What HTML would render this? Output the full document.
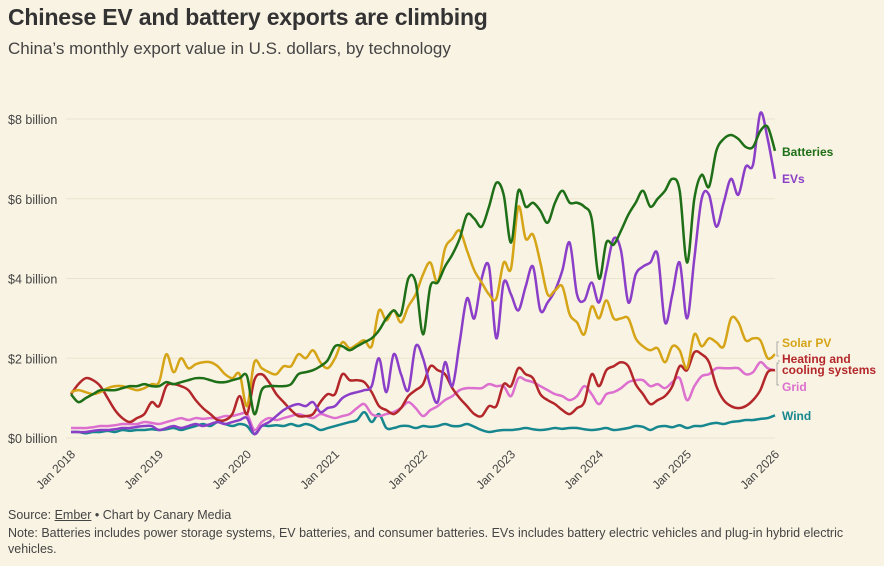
<!DOCTYPE html>
<html><head><meta charset="utf-8"><style>
body{margin:0;background:#f9f3e3;font-family:"Liberation Sans",sans-serif;}
#wrap{position:relative;width:884px;height:566px;overflow:hidden;background:#f9f3e3;}
h1{position:absolute;left:8px;top:4px;margin:0;font-size:23px;font-weight:bold;color:#333;letter-spacing:-0.2px}
.sub{position:absolute;left:8px;top:39px;font-size:17px;color:#444}
.foot{position:absolute;left:8px;font-size:12.5px;color:#444}
</style></head><body>
<div id="wrap">
<h1>Chinese EV and battery exports are climbing</h1>
<div class="sub">China’s monthly export value in U.S. dollars, by technology</div>
<svg id="chart" width="884" height="566" style="position:absolute;left:0;top:0"></svg>
<div class="foot" style="top:508px">Source: <u>Ember</u> • Chart by Canary Media</div>
<div class="foot" style="top:525px;width:860px;line-height:16px">Note: Batteries includes power storage systems, EV batteries, and consumer batteries. EVs includes battery electric vehicles and plug-in hybrid electric vehicles.</div>
</div>
<script>
const batteries=[1.1,0.9,1.0,1.1,1.2,1.2,1.2,1.25,1.3,1.3,1.35,1.3,
1.3,1.4,1.35,1.4,1.45,1.5,1.5,1.45,1.4,1.4,1.45,1.5,
1.55,0.6,1.2,1.3,1.3,1.3,1.35,1.6,1.65,1.7,1.8,1.95,
2.3,2.3,2.2,2.3,2.4,2.5,2.7,3.0,3.2,3.1,4.0,3.9,
2.6,3.8,3.9,4.3,4.6,5.0,5.6,5.5,5.3,5.8,6.4,6.1,
4.9,6.2,5.8,5.9,5.7,5.4,5.9,6.2,5.9,5.9,5.8,5.5,
4.0,4.9,4.85,5.2,5.6,5.9,6.2,5.8,6.0,6.2,6.5,6.2,
4.4,6.0,6.6,6.3,7.2,7.5,7.6,7.5,7.3,7.3,7.7,7.8,7.2];
const evs=[0.15,0.15,0.15,0.18,0.2,0.2,0.22,0.25,0.25,0.28,0.3,0.3,
0.2,0.25,0.3,0.25,0.3,0.35,0.3,0.35,0.4,0.35,0.4,0.45,
0.5,0.1,0.3,0.4,0.55,0.7,0.8,0.85,0.8,0.9,0.65,0.75,
0.8,1.0,1.1,1.15,1.2,1.3,2.0,1.15,2.1,1.6,1.2,2.3,
2.0,1.3,0.9,1.9,1.3,2.4,3.5,3.0,4.0,4.3,2.5,3.9,
3.6,3.2,3.8,4.3,3.2,3.4,3.7,4.2,4.9,3.6,3.45,3.9,
3.4,4.2,5.0,4.7,3.4,4.1,4.3,4.4,4.6,2.9,3.6,4.4,
3.0,4.5,6.0,6.1,5.3,5.9,6.5,6.1,6.8,6.85,8.15,7.5,6.5];
const solar=[1.15,1.2,1.15,1.1,1.15,1.25,1.3,1.3,1.25,1.2,1.25,1.35,
1.4,2.1,1.65,2.0,1.75,1.85,1.9,1.9,1.8,1.6,1.5,1.6,
0.8,1.9,1.75,1.65,1.6,1.8,1.8,2.1,2.0,2.2,1.9,1.75,
2.0,2.4,2.25,2.35,2.45,2.3,3.2,2.95,3.2,2.9,3.3,3.6,
4.1,4.4,3.9,4.75,5.0,5.2,4.7,4.2,3.9,3.6,3.5,4.4,
4.25,5.8,5.0,5.1,4.4,3.6,3.7,3.8,3.1,2.9,2.6,3.3,
3.0,3.45,3.0,3.0,3.0,2.5,2.3,2.2,2.25,1.9,2.3,2.2,
1.75,2.6,2.3,2.5,2.4,2.3,3.0,2.9,2.45,2.5,2.45,2.0,2.1];
const heating=[1.1,1.35,1.5,1.45,1.3,1.0,0.7,0.5,0.4,0.5,0.6,0.9,
0.8,1.3,1.35,1.3,1.2,0.95,0.75,0.6,0.45,0.45,0.6,1.05,
0.6,1.45,1.6,1.4,1.1,0.9,0.7,0.55,0.55,0.6,0.9,1.1,
1.1,1.6,1.45,1.45,1.4,1.15,0.8,0.7,0.6,0.75,1.05,1.2,
1.35,1.8,1.7,1.6,1.25,1.0,0.8,0.6,0.55,0.8,0.8,1.35,
1.3,1.75,1.6,1.5,1.1,0.95,0.85,0.7,0.6,0.75,0.9,1.6,
1.3,1.7,1.8,1.9,1.8,1.35,1.1,0.85,0.95,1.05,1.3,1.8,
1.7,2.15,2.1,1.9,1.3,0.95,0.8,0.75,0.8,0.95,1.2,1.65,1.7];
const grid=[0.25,0.25,0.25,0.27,0.3,0.3,0.32,0.35,0.35,0.35,0.4,0.38,
0.35,0.4,0.45,0.5,0.45,0.5,0.48,0.5,0.5,0.55,0.55,0.6,
0.6,0.2,0.4,0.5,0.45,0.5,0.55,0.6,0.55,0.5,0.6,0.55,
0.5,0.55,0.6,0.75,0.85,0.6,0.55,0.6,0.65,0.75,0.9,0.75,
0.55,0.7,0.8,0.95,1.05,1.2,1.25,1.25,1.25,1.35,1.3,1.3,
1.05,1.5,1.45,1.4,1.3,1.2,1.1,1.05,0.95,1.05,1.3,1.1,
0.85,1.1,1.15,1.25,1.4,1.45,1.45,1.3,1.35,1.25,1.4,1.5,
0.95,1.3,1.55,1.6,1.75,1.75,1.75,1.75,1.6,1.65,1.9,1.75,1.7];
const wind=[0.15,0.15,0.12,0.15,0.15,0.18,0.15,0.2,0.18,0.2,0.2,0.22,
0.2,0.22,0.25,0.2,0.25,0.3,0.35,0.3,0.4,0.35,0.3,0.35,
0.3,0.1,0.3,0.3,0.32,0.3,0.35,0.3,0.35,0.3,0.2,0.25,
0.3,0.35,0.4,0.45,0.65,0.4,0.6,0.25,0.25,0.3,0.3,0.25,
0.3,0.28,0.3,0.35,0.3,0.3,0.35,0.28,0.2,0.15,0.18,0.2,
0.2,0.22,0.25,0.22,0.2,0.22,0.25,0.23,0.25,0.25,0.22,0.2,
0.22,0.25,0.2,0.22,0.25,0.3,0.28,0.2,0.28,0.3,0.27,0.32,
0.25,0.3,0.3,0.35,0.38,0.35,0.4,0.42,0.45,0.45,0.48,0.5,0.57];
const yTicks=[0,2,4,6,8];
const yTickLabels=["$0 billion","$2 billion","$4 billion","$6 billion","$8 billion"];
const xTickMonths=[0,12,24,36,48,60,72,84,96];
const xTickLabels=["Jan 2018","Jan 2019","Jan 2020","Jan 2021","Jan 2022","Jan 2023","Jan 2024","Jan 2025","Jan 2026"];

const NS="http://www.w3.org/2000/svg";
const svg=document.getElementById('chart');
const X0=71,X1=775,Y0=438,YTOP=119;
function xs(m){return X0+(X1-X0)*m/96;}
function ys(v){return Y0-(Y0-YTOP)*v/8;}
function mk(tag,attrs){const e=document.createElementNS(NS,tag);for(const k in attrs)e.setAttribute(k,attrs[k]);svg.appendChild(e);return e;}

yTicks.forEach((v,i)=>{
  const l=mk('line',{x1:66,x2:775,y1:ys(v),y2:ys(v),stroke:'#ebe3d0','stroke-width':1});
  
  
  const t=mk('text',{x:8,y:ys(v)+5,'font-size':12.5,fill:'#444','font-family':'Liberation Sans, sans-serif'});
  t.textContent=yTickLabels[i];
  
  
});
xTickMonths.forEach((m,i)=>{
  const x=xs(m);
  const t=mk('text',{x:x+5,y:455,'font-size':12,fill:'#444','text-anchor':'end','font-family':'Liberation Sans, sans-serif',transform:`rotate(-45 ${x+5} 455)`});
  t.textContent=xTickLabels[i];
  
  
});
function pathFor(arr){
  const p=arr.map((v,i)=>[xs(i),ys(v)]);
  let d=`M${p[0][0]},${p[0][1]}`;
  for(let i=0;i<p.length-1;i++){
    const a=p[Math.max(0,i-1)],b=p[i],c=p[i+1],e=p[Math.min(p.length-1,i+2)];
    const c1=[b[0]+(c[0]-a[0])/6,b[1]+(c[1]-a[1])/6];
    const c2=[c[0]-(e[0]-b[0])/6,c[1]-(e[1]-b[1])/6];
    d+=`C${c1[0]},${c1[1]} ${c2[0]},${c2[1]} ${c[0]},${c[1]}`;
  }
  return d;
}
const series=[
  {d:wind,c:'#17878f',n:'wind-line'},
  {d:grid,c:'#dd6fcf',n:'grid-line'},
  {d:heating,c:'#b3272a',n:'heating-line'},
  {d:evs,c:'#8b3fc9',n:'evs-line'},
  {d:solar,c:'#d5a417',n:'solar-line'},
  {d:batteries,c:'#1e6f17',n:'batteries-line'}
];
series.forEach(s=>{
  const p=mk('path',{d:pathFor(s.d),fill:'none',stroke:s.c,'stroke-width':2.5,'stroke-linejoin':'round'});
  
  
});
const labels=[
  {t:['Batteries'],y:156,c:'#1e6f17',n:'batteries-label'},
  {t:['EVs'],y:183,c:'#8b3fc9',n:'evs-label'},
  {t:['Solar PV'],y:347,c:'#d5a417',n:'solar-label'},
  {t:['Heating and','cooling systems'],y:363,c:'#b3272a',n:'heating-label'},
  {t:['Grid'],y:391,c:'#dd6fcf',n:'grid-label'},
  {t:['Wind'],y:420,c:'#17878f',n:'wind-label'}
];
labels.forEach(L=>{
  L.t.forEach((s,j)=>{
    const t=mk('text',{x:782,y:L.y+j*11,'font-size':12,'font-weight':'bold',fill:L.c,'font-family':'Liberation Sans, sans-serif'});
    t.textContent=s;
    
    
  });
});
const br=mk('path',{d:'M779,342 h-2 v14 h2 M779,362 v-2 M779,363 h-2 v22 h2',fill:'none',stroke:'#aaa','stroke-width':1});


</script>
</body></html>
